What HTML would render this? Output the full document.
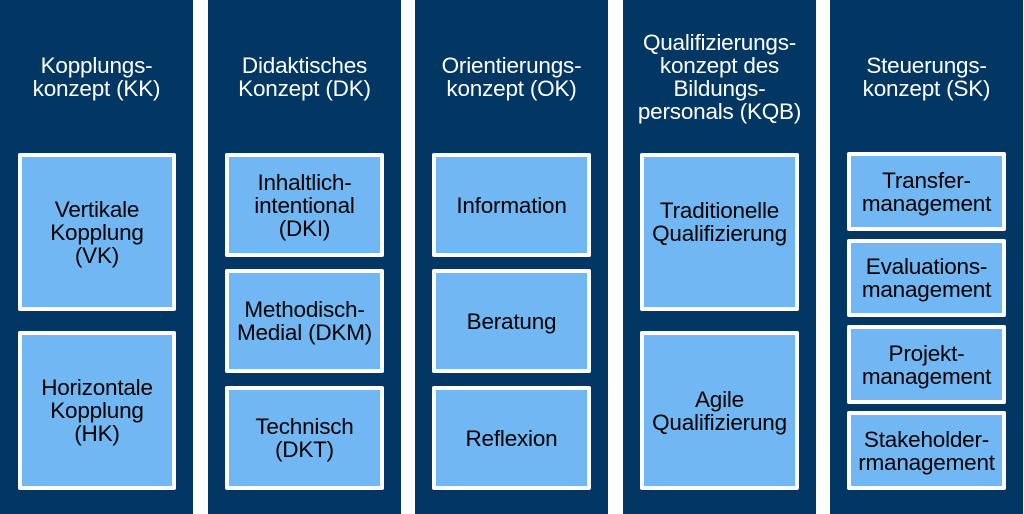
<!DOCTYPE html>
<html><head><meta charset="utf-8"><style>
body{margin:0;width:1024px;height:514px;background:#fff;position:relative;overflow:hidden;font-family:"Liberation Sans",sans-serif}
.c{position:absolute;top:0;height:514px;width:193px;background:#023764}
.t{position:absolute;left:-10px;width:213px;text-align:center;color:#fff;font-size:22.5px;line-height:23px;letter-spacing:-0.2px}
.b{position:absolute;background:#71b7f3;border:4px solid #fff;box-sizing:border-box;display:flex;align-items:center;justify-content:center;text-align:center;color:#000;font-size:22.5px;line-height:23px;letter-spacing:-0.2px;border-radius:2px;white-space:nowrap}
</style></head><body>
<div class="c" style="left:0"><div class="t" style="top:54px">Kopplungs-<br>konzept (KK)</div></div>
<div class="c" style="left:208px"><div class="t" style="top:54px">Didaktisches<br>Konzept (DK)</div></div>
<div class="c" style="left:415px"><div class="t" style="top:54px">Orientierungs-<br>konzept (OK)</div></div>
<div class="c" style="left:623px"><div class="t" style="top:31px">Qualifizierungs-<br>konzept des<br>Bildungs-<br>personals (KQB)</div></div>
<div class="c" style="left:830px"><div class="t" style="top:54px">Steuerungs-<br>konzept (SK)</div></div>

<div class="b" style="left:18px;top:153px;width:158px;height:158px">Vertikale<br>Kopplung<br>(VK)</div>
<div class="b" style="left:18px;top:331px;width:158px;height:159px">Horizontale<br>Kopplung<br>(HK)</div>

<div class="b" style="left:225px;top:153px;width:159px;height:104px">Inhaltlich-<br>intentional<br>(DKI)</div>
<div class="b" style="left:225px;top:269px;width:159px;height:104px">Methodisch-<br>Medial (DKM)</div>
<div class="b" style="left:225px;top:386px;width:159px;height:104px">Technisch<br>(DKT)</div>

<div class="b" style="left:432px;top:153px;width:159px;height:104px">Information</div>
<div class="b" style="left:432px;top:269px;width:159px;height:104px">Beratung</div>
<div class="b" style="left:432px;top:386px;width:159px;height:104px">Reflexion</div>

<div class="b" style="left:640px;top:153px;width:159px;height:158px;padding-bottom:20px">Traditionelle<br>Qualifizierung</div>
<div class="b" style="left:640px;top:331px;width:159px;height:159px">Agile<br>Qualifizierung</div>

<div class="b" style="left:847px;top:152px;width:159px;height:79px">Transfer-<br>management</div>
<div class="b" style="left:847px;top:239px;width:159px;height:78px">Evaluations-<br>management</div>
<div class="b" style="left:847px;top:325px;width:159px;height:79px">Projekt-<br>management</div>
<div class="b" style="left:847px;top:411px;width:159px;height:79px">Stakeholder-<br>rmanagement</div>
</body></html>
